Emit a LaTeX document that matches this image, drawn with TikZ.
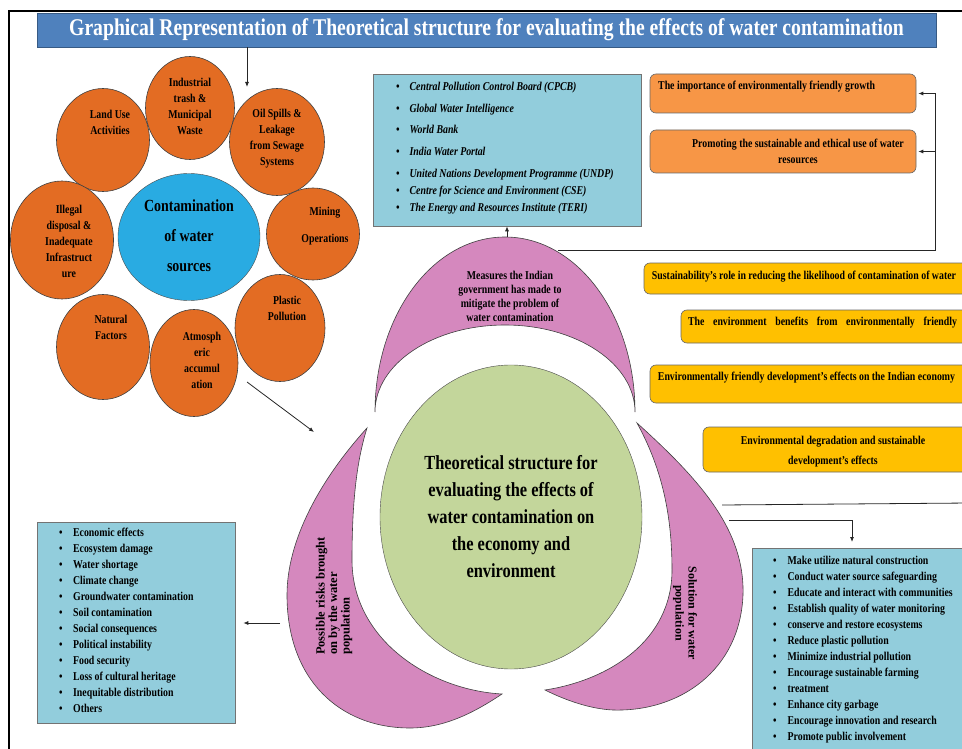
\documentclass[tikz,border=0pt]{standalone}
\usepackage{fontspec}
\setmainfont{Liberation Serif}[FakeStretch=0.82]
\newfontfamily\petalfont{Liberation Serif}
\usetikzlibrary{shapes.geometric,arrows.meta}

\definecolor{titleblue}{HTML}{4F81BD}
\definecolor{bubbleorange}{HTML}{E36C23}
\definecolor{waterblue}{HTML}{29ABE2}
\definecolor{listblue}{HTML}{92CDDC}
\definecolor{boxorange}{HTML}{F79646}
\definecolor{boxyellow}{HTML}{FFC000}
\definecolor{petalpink}{HTML}{D588BE}
\definecolor{centregreen}{HTML}{C3D69B}

\begin{document}
\begin{tikzpicture}[x=1pt,y=-1pt,
    bubble_node/.style={ellipse,draw=black!75,fill=bubbleorange,inner sep=0pt,line width=0.6pt},
    bubble_text/.style={align=center,font=\bfseries\fontsize{12}{16}\selectfont,inner sep=0pt},
    list_box/.style={rectangle,draw=black!55,fill=listblue,inner sep=0pt,line width=0.6pt},
    list_text/.style={align=left,font=\bfseries\fontsize{12}{16}\selectfont,inner sep=0pt,anchor=north west},
    tip_box/.style={rectangle,rounded corners=6pt,draw=black!60,inner sep=0pt,line width=0.6pt},
    tip_text/.style={font=\bfseries\fontsize{12}{20}\selectfont,inner sep=0pt,align=center},
    petal/.style={fill=petalpink,draw=black!75,line width=0.6pt},
    conn/.style={draw=black!85,line width=0.8pt},
    arr/.style={-{Latex[length=5pt,width=4pt]}}]

    \useasboundingbox (0,0) rectangle (962,749);
    \clip (0,0) rectangle (962,749);

    % frame and title
    \draw[line width=1.6pt] (9,749) -- (9,11) -- (962,11);
    \node[rectangle,draw=titleblue!70!black,fill=titleblue,minimum width=899pt,minimum height=34pt,inner sep=0pt,text=white,font=\bfseries\fontsize{24}{28}\selectfont] (title) at (486.5,30) {Graphical Representation of Theoretical structure for evaluating the effects of water contamination};

    % sources of contamination
    \node[bubble_node,minimum width=93pt,minimum height=103pt] (landuse) at (103,140) {};
    \node[bubble_text] (landuse_txt) at (110,122) {Land Use\\Activities};
    \node[bubble_node,minimum width=103pt,minimum height=118pt] (illegal) at (62,240) {};
    \node[bubble_text] (illegal_txt) at (69,241) {Illegal\\disposal \&\\Inadequate\\Infrastruct\\ure};
    \node[bubble_node,minimum width=93pt,minimum height=105pt] (natural) at (103,347) {};
    \node[bubble_text] (natural_txt) at (111,327) {Natural\\Factors};
    \node[bubble_node,minimum width=89pt,minimum height=103pt] (industrial) at (190,108) {};
    \node[bubble_text] (industrial_txt) at (190,106) {Industrial\\trash \&\\Municipal\\Waste};
    \node[bubble_node,minimum width=95pt,minimum height=107pt] (oilspill) at (277,142) {};
    \node[bubble_text] (oilspill_txt) at (277,139) {Oil Spills \&\\Leakage\\from Sewage\\Systems};
    \node[bubble_node,minimum width=93pt,minimum height=92pt] (mining) at (313,234) {};
    \node[bubble_text,font=\bfseries\fontsize{12}{27}\selectfont] (mining_txt) at (325,226) {Mining\\Operations};
    \node[bubble_node,minimum width=90pt,minimum height=107pt] (plastic) at (280,328) {};
    \node[bubble_text] (plastic_txt) at (287,308) {Plastic\\Pollution};
    \node[bubble_node,minimum width=88pt,minimum height=107pt] (atmos) at (194,363) {};
    \node[bubble_text] (atmos_txt) at (202,360) {Atmosph\\eric\\accumul\\ation};
    \node[ellipse,draw=black!70,fill=waterblue,minimum width=142pt,minimum height=127pt,inner sep=0pt] (water) at (189,237) {};
    \node[bubble_text,font=\bfseries\fontsize{17}{30}\selectfont] (water_txt) at (189,236) {Contamination\\of water\\sources};

    % agencies
    \node[list_box,minimum width=268pt,minimum height=152pt] (agencies) at (507,150) {};
    \node[list_text,font=\bfseries\itshape\fontsize{12}{14}\selectfont] (agencies_txt) at (396,82) {\textbullet\hspace{10pt}Central Pollution Control Board (CPCB)\\[8pt]
        \textbullet\hspace{10pt}Global Water Intelligence\\[7pt]
        \textbullet\hspace{10pt}World Bank\\[8pt]
        \textbullet\hspace{10pt}India Water Portal\\[8pt]
        \textbullet\hspace{10pt}United Nations Development Programme (UNDP)\\[3pt]
        \textbullet\hspace{10pt}Centre for Science and Environment (CSE)\\[3pt]
        \textbullet\hspace{10pt}The Energy and Resources Institute (TERI)};

    % orange boxes
    \node[tip_box,fill=boxorange,minimum width=266pt,minimum height=39pt] (growth) at (783,93.5) {};
    \node[tip_text,anchor=west] (growth_txt) at (658,87) {The importance of environmentally friendly growth};
    \node[tip_box,fill=boxorange,minimum width=266pt,minimum height=43pt] (ethical) at (783,151.5) {};
    \node[tip_text,font=\bfseries\fontsize{12}{16}\selectfont] (ethical_txt) at (798,151) {Promoting the sustainable and ethical use of water\\resources};

    % yellow boxes
    \node[tip_box,fill=boxyellow,minimum width=336pt,minimum height=31pt] (reduce) at (812,278.5) {};
    \node[tip_text] (reduce_txt) at (804,277) {Sustainability's role in reducing the likelihood of contamination of water};
    \node[tip_box,fill=boxyellow,minimum width=299pt,minimum height=33pt] (benefit) at (830.5,326.5) {};
    \node[tip_text] (benefit_txt) at (822.5,323) {\makebox[269pt][s]{The environment benefits from environmentally friendly}};
    \node[tip_box,fill=boxyellow,minimum width=330pt,minimum height=38pt] (economy) at (815,384) {};
    \node[tip_text] (economy_txt) at (806.5,378) {Environmentally friendly development's effects on the Indian economy};
    \node[tip_box,fill=boxyellow,minimum width=277pt,minimum height=45pt] (degrade) at (841.5,449.5) {};
    \node[tip_text] (degrade_txt) at (833,452) {Environmental degradation and sustainable\\development's effects};

    % petals
    \path[petal] (375,412) .. controls (375,315) and (433,237) .. (505,237) .. controls (577,237) and (635,315) .. (635,412)
        .. controls (635,364) and (577,325) .. (505,325) .. controls (433,325) and (375,364) .. (375,412) -- cycle;
    \path[petal] (367,428) .. controls (320,480) and (287,540) .. (287,595) .. controls (287,680) and (340,728) .. (410,728)
        .. controls (445,728) and (475,712) .. (502,694) .. controls (430,690) and (352,640) .. (352,560)
        .. controls (352,500) and (357,460) .. (367,428) -- cycle;
    \path[petal] (637,423) .. controls (700,480) and (745,530) .. (743,595) .. controls (740,670) and (680,712) .. (613,710)
        .. controls (590,709) and (565,700) .. (545,690) .. controls (610,680) and (672,640) .. (672,570)
        .. controls (672,510) and (660,465) .. (637,423) -- cycle;
    \node[align=center,font=\bfseries\fontsize{12}{14}\selectfont,inner sep=0pt] (measures_txt) at (510,296) {Measures the Indian\\government has made to\\mitigate the problem of\\water contamination};
    \node[rotate=90,align=left,font=\petalfont\bfseries\fontsize{12.5}{12.5}\selectfont,inner sep=0pt] (risks_txt) at (334,596) {Possible risks brought\\on by the water\\population};
    \node[rotate=-90,align=center,font=\petalfont\bfseries\fontsize{12}{13}\selectfont,inner sep=0pt] (solution_txt) at (685,613) {Solution for water\\population};

    % centre
    \node[ellipse,draw=black!70,fill=centregreen,minimum width=262pt,minimum height=304pt,inner sep=0pt] (core) at (511,517) {};
    \node[align=center,font=\bfseries\fontsize{20}{27}\selectfont,inner sep=0pt] (core_txt) at (511,517) {Theoretical structure for\\evaluating the effects of\\water contamination on\\the economy and\\environment};

    % lists
    \node[list_box,minimum width=198pt,minimum height=201pt] (risks) at (136,622.5) {};
    \node[list_text] (risks_list) at (59,528) {\textbullet\hspace{10.5pt}Economic effects\\
        \textbullet\hspace{10.5pt}Ecosystem damage\\
        \textbullet\hspace{10.5pt}Water shortage\\
        \textbullet\hspace{10.5pt}Climate change\\
        \textbullet\hspace{10.5pt}Groundwater contamination\\
        \textbullet\hspace{10.5pt}Soil contamination\\
        \textbullet\hspace{10.5pt}Social consequences\\
        \textbullet\hspace{10.5pt}Political instability\\
        \textbullet\hspace{10.5pt}Food security\\
        \textbullet\hspace{10.5pt}Loss of cultural heritage\\
        \textbullet\hspace{10.5pt}Inequitable distribution\\
        \textbullet\hspace{10.5pt}Others};
    \node[list_box,anchor=north west,minimum width=240pt,minimum height=230pt] (solutions) at (752,548) {};
    \node[list_text] (solutions_list) at (773,555.5) {\textbullet\hspace{11pt}Make utilize natural construction\\
        \textbullet\hspace{11pt}Conduct water source safeguarding\\
        \textbullet\hspace{11pt}Educate and interact with communities\\
        \textbullet\hspace{11pt}Establish quality of water monitoring\\
        \textbullet\hspace{11pt}conserve and restore ecosystems\\
        \textbullet\hspace{11pt}Reduce plastic pollution\\
        \textbullet\hspace{11pt}Minimize industrial pollution\\
        \textbullet\hspace{11pt}Encourage sustainable farming\\
        \textbullet\hspace{11pt}treatment\\
        \textbullet\hspace{11pt}Enhance city garbage\\
        \textbullet\hspace{11pt}Encourage innovation and research\\
        \textbullet\hspace{11pt}Promote public involvement};

    % connectors
    \coordinate (ind_in) at (247,87);
    \coordinate (atm_out) at (247,382);
    \coordinate (lp_in) at (314,432);
    \coordinate (tp_top) at (507,237);
    \coordinate (tp_right) at (558,250);
    \coordinate (rail_low) at (935,250);
    \coordinate (lp_out) at (280,623);
    \coordinate (rp_a) at (722,505);
    \coordinate (rp_edge) at (970,503);
    \coordinate (rp_b) at (729,520);
    \coordinate (sol_in) at (852,542);

    \draw[conn,arr] (title.south -| ind_in) -- (ind_in);
    \draw[conn,arr] (atm_out) -- (lp_in);
    \draw[conn,arr] (tp_top) -- (agencies.south -| tp_top);
    \draw[conn] (tp_right) -- (rail_low) -- (rail_low |- growth.east);
    \draw[conn,arr] (rail_low |- growth.east) -- ([xshift=2pt]growth.east);
    \draw[conn,arr] (rail_low |- ethical.east) -- ([xshift=2pt]ethical.east);
    \draw[conn,arr] (lp_out) -- ([xshift=8pt]risks.east |- lp_out);
    \draw[conn] (rp_a) -- (rp_edge);
    \draw[conn,arr] (rp_b) -- (rp_b -| sol_in) -- (sol_in);

\end{tikzpicture}
\end{document}
